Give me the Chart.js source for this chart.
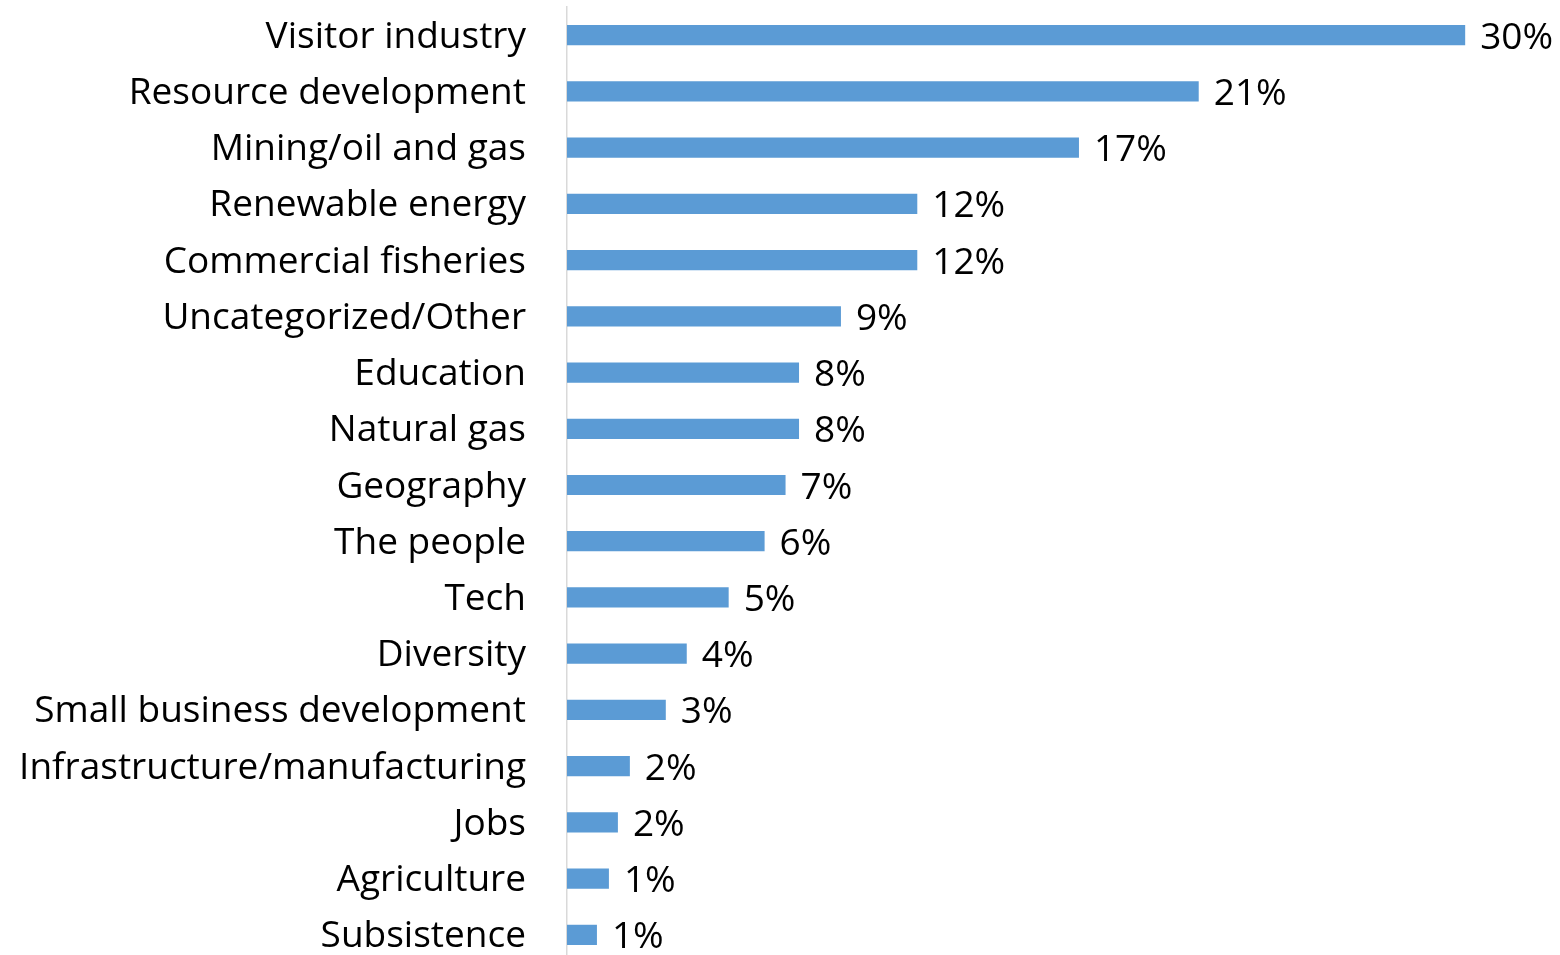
<!DOCTYPE html>
<html>
<head>
<meta charset="utf-8">
<script src="https://cdn.jsdelivr.net/npm/chart.js@4"></script>
<style>
  html, body { margin: 0; padding: 0; background: #fff; overflow: hidden; }
  .wrap { width: 1560px; height: 963px; }
</style>
</head>
<body>
<div class="wrap"><canvas id="c"></canvas></div>
<script>
const CATEGORIES = ['Visitor industry', 'Resource development', 'Mining/oil and gas', 'Renewable energy',
  'Commercial fisheries', 'Uncategorized/Other', 'Education', 'Natural gas', 'Geography', 'The people',
  'Tech', 'Diversity', 'Small business development', 'Infrastructure/manufacturing', 'Jobs',
  'Agriculture', 'Subsistence'];
// bar lengths (percent)
const VALUES = [30.0, 21.1, 17.1, 11.7, 11.7, 9.15, 7.75, 7.75, 7.3, 6.6, 5.4, 4.0, 3.3, 2.1, 1.7, 1.4, 1.0];
// printed labels
const LABELS = ['30%', '21%', '17%', '12%', '12%', '9%', '8%', '8%', '7%', '6%', '5%', '4%', '3%', '2%', '2%', '1%', '1%'];

const FONT = 'Open Sans';
const SIZE = 37;
const BLUE = '#5B9BD5';

const valueLabels = {
  id: 'valueLabels',
  afterDatasetsDraw(chart) {
    const ctx = chart.ctx;
    ctx.save();
    ctx.font = `${SIZE}px "${FONT}"`;
    ctx.fillStyle = '#000';
    ctx.textBaseline = 'middle';
    chart.getDatasetMeta(0).data.forEach((bar, i) => {
      ctx.fillText(LABELS[i], bar.x + 15, bar.y + 3);
    });
    ctx.restore();
  }
};

new Chart(document.getElementById('c'), {
  type: 'bar',
  data: {
    labels: CATEGORIES,
    datasets: [{ data: VALUES, backgroundColor: BLUE, barPercentage: 0.36, categoryPercentage: 1 }]
  },
  options: {
    indexAxis: 'y',
    responsive: true, maintainAspectRatio: false,
    animation: false,
    layout: { padding: { top: 7, bottom: 0, right: 5, left: 0 } },
    plugins: { legend: { display: false }, tooltip: { enabled: false } },
    scales: {
      x: { display: false, min: 0, max: 33 },
      y: {
        grid: { display: false },
        border: { color: '#D9D9D9', width: 1.5 },
        ticks: { color: '#000', padding: 33, labelOffset: 2, font: { family: FONT, size: SIZE } },
        afterFit: s => { s.width = 567; s.paddingTop = 0; s.paddingBottom = 0; }
      }
    }
  },
  plugins: [valueLabels]
});
</script>
</body>
</html>
